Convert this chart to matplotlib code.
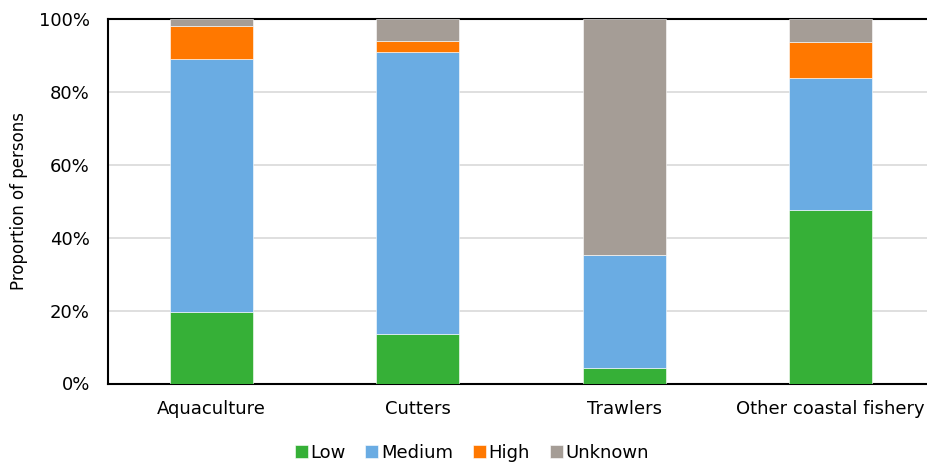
import numpy as np
import matplotlib.pyplot as plt
from matplotlib.ticker import PercentFormatter

categories = ['Aquaculture', 'Cutters', 'Trawlers', 'Other coastal fishery']
levels = ['Low', 'Medium', 'High', 'Unknown']
low = [19.7, 13.7, 4.2, 47.5]
medium = [69.4, 77.2, 31.1, 36.2]
high = [8.9, 3.1, 0.0, 9.9]
unknown = [2.0, 6.0, 64.7, 6.4]
colors = ['#36b037', '#6aace3', '#ff7800', '#a59d96']

fig = plt.figure(figsize=(9.27, 4.62), dpi=100)
ax = fig.add_axes([108 / 927, 78.5 / 462, 826 / 927, 364.5 / 462])

x = np.arange(len(categories))
bottom = np.zeros(len(categories))
for name, vals, col in zip(levels, [low, medium, high, unknown], colors):
    ax.bar(x, vals, 0.4, bottom=bottom, color=col, label=name,
           edgecolor='white', linewidth=0.4, zorder=3)
    bottom += np.array(vals)

ax.set_xlim(-0.5, len(categories) - 0.5)
ax.set_ylim(0, 100)
ax.set_yticks(range(0, 101, 20))
ax.yaxis.set_major_formatter(PercentFormatter(decimals=0))
ax.set_xticks(x)
ax.set_xticklabels(categories)
ax.tick_params(axis='both', length=0, labelsize=13)
ax.tick_params(axis='y', pad=13)
ax.tick_params(axis='x', pad=12)
ax.grid(axis='y', color='#d9d9d9', linewidth=1.2, zorder=0)
for s in ax.spines.values():
    s.set_color('black')
    s.set_linewidth(1.5)
ax.set_ylabel('Proportion of persons', fontsize=12, labelpad=8)

fig.legend(loc='lower center', bbox_to_anchor=(0.509, -0.035), ncol=4,
           frameon=False, fontsize=13, handlelength=0.72, handleheight=0.72,
           handletextpad=0.15, columnspacing=1.1)

fig.savefig('out.png', dpi=100)
